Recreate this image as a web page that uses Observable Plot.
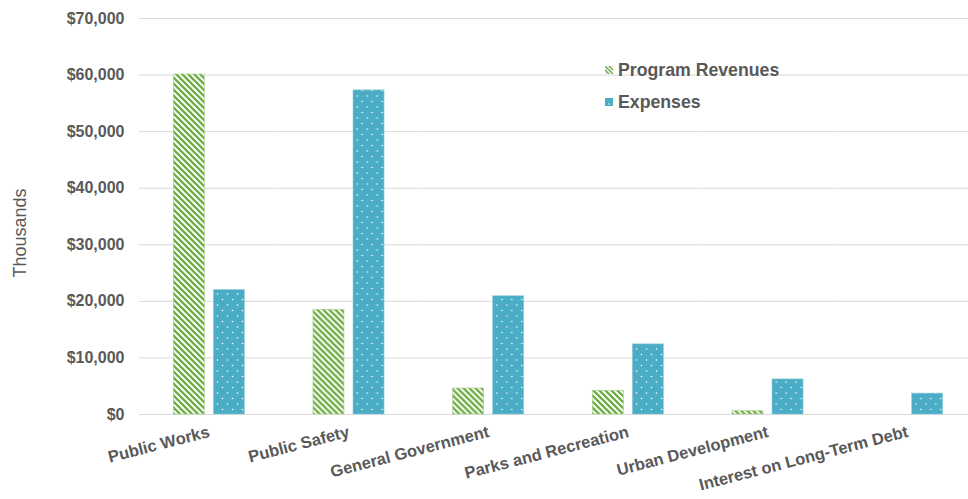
<!DOCTYPE html>
<html>
<head>
<meta charset="utf-8">
<script src="https://cdn.jsdelivr.net/npm/d3@7"></script>
<script src="https://cdn.jsdelivr.net/npm/@observablehq/plot@0.6"></script>
<style>
  html, body { margin: 0; padding: 0; background: #fff; }
  #wrap { position: relative; width: 968px; height: 499px; overflow: hidden; font-family: "Liberation Sans", Arial, sans-serif; }
  #legend { position: absolute; left: 605px; top: 54px; font-weight: bold; font-size: 17.7px; color: #595959; }
  #legend .row { display: flex; align-items: center; height: 32px; }
  #legend svg { margin-right: 5px; }
  #ylabel { position: absolute; left: 20px; top: 233px; transform: translate(-50%, -50%) rotate(-90deg); font-size: 18px; color: #595959; white-space: nowrap; }
</style>
</head>
<body>
<div id="wrap">
  <div id="chart"></div>
  <div id="legend"></div>
  <div id="ylabel">Thousands</div>
</div>
<script>
const categories = ["Public Works", "Public Safety", "General Government", "Parks and Recreation", "Urban Development", "Interest on Long-Term Debt"];
const seriesNames = ["Program Revenues", "Expenses"];
const programRevenues = [60100, 18500, 4600, 4200, 600, 0];
const expenses = [22000, 57300, 20900, 12400, 6200, 3700];
const yTicks = [0, 10000, 20000, 30000, 40000, 50000, 60000, 70000];

const data = [];
categories.forEach((c, i) => {
  data.push({category: c, series: seriesNames[0], value: programRevenues[i]});
  data.push({category: c, series: seriesNames[1], value: expenses[i]});
});

const plot = Plot.plot({
  width: 968,
  height: 499,
  marginLeft: 139,
  marginRight: -9,
  marginTop: 18,
  marginBottom: 85,
  style: {fontFamily: "Liberation Sans, Arial, sans-serif", color: "#595959", background: "white"},
  fx: {domain: categories, padding: 0, round: false, label: null, tickSize: 0, tickPadding: 17, tickRotate: -14.5},
  x: {domain: seriesNames, axis: null, round: false, paddingInner: 0.225, paddingOuter: 0.856},
  y: {domain: [0, 70000], ticks: yTicks, tickFormat: d3.format("$,"), tickSize: 0, tickPadding: 15,
      grid: true, label: null},
  marks: [
    Plot.barY(data.filter(d => d.series === seriesNames[0]), {fx: "category", x: "series", y: "value", fill: "url(#stripes)", stroke: "#a9d08e", strokeWidth: 0.6}),
    Plot.barY(data.filter(d => d.series === seriesNames[1]), {fx: "category", x: "series", y: "value", fill: "url(#dots)", stroke: "#92cddc", strokeWidth: 0.6})
  ]
});

const svg = d3.select(plot);
const defs = svg.insert("defs", ":first-child");
const s = defs.append("pattern").attr("id", "stripes").attr("patternUnits", "userSpaceOnUse").attr("width", 6).attr("height", 6);
s.append("rect").attr("width", 6).attr("height", 6).attr("fill", "#fff");
s.append("path").attr("d", "M0,0L6,6M-3,3L3,9M3,-3L9,3").attr("stroke", "#70AD47").attr("stroke-width", 2.3);
const p = defs.append("pattern").attr("id", "dots").attr("patternUnits", "userSpaceOnUse").attr("width", 10).attr("height", 11);
p.append("rect").attr("width", 10).attr("height", 11).attr("fill", "#4BACC6");
p.append("circle").attr("cx", 2.5).attr("cy", 2.5).attr("r", 0.8).attr("fill", "#fff");
p.append("circle").attr("cx", 7.5).attr("cy", 8).attr("r", 0.8).attr("fill", "#fff");

svg.selectAll("[aria-label='y-grid'] line, [aria-label='y-axis grid'] line").attr("stroke", "#d9d9d9").attr("stroke-opacity", 1);
svg.selectAll("g[aria-label='y-axis tick label'] text").attr("font-weight", "bold").attr("font-size", 16).attr("fill", "#595959");
svg.selectAll("g[aria-label='y-axis tick label']").attr("font-weight", "bold").attr("font-size", 16).attr("fill", "#595959");
svg.selectAll("g[aria-label='fx-axis tick label'] text").attr("font-weight", "bold").attr("font-size", 16.5).attr("fill", "#595959");
svg.selectAll("g[aria-label='fx-axis tick label']").attr("font-weight", "bold").attr("font-size", 16.5).attr("fill", "#595959");

document.getElementById("chart").appendChild(plot);

const legend = d3.select("#legend");
const items = [
  {name: seriesNames[0], fill: "url(#lstripes)"},
  {name: seriesNames[1], fill: "#4BACC6"}
];
items.forEach((it, i) => {
  const row = legend.append("div").attr("class", "row");
  const sw = row.append("svg").attr("width", 8).attr("height", 8);
  if (i === 0) {
    const d = sw.append("defs").append("pattern").attr("id", "lstripes").attr("patternUnits", "userSpaceOnUse").attr("width", 4).attr("height", 4);
    d.append("rect").attr("width", 4).attr("height", 4).attr("fill", "#fff");
    d.append("path").attr("d", "M0,0L4,4M-2,2L2,6M2,-2L6,2").attr("stroke", "#70AD47").attr("stroke-width", 1.5);
  }
  sw.append("rect").attr("width", 8).attr("height", 8).attr("fill", it.fill);
  if (i === 1) sw.append("circle").attr("cx", 4).attr("cy", 6).attr("r", 0.7).attr("fill", "#fff");
  row.append("span").text(it.name);
});
</script>
</body>
</html>
